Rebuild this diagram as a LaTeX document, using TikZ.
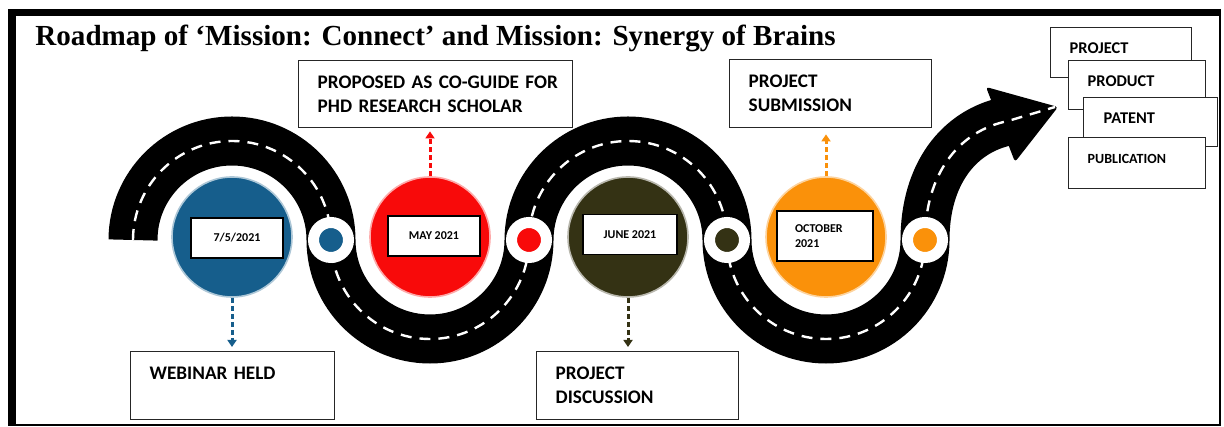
\documentclass[tikz,border=0pt]{standalone}
\usepackage{fontspec}
\setmainfont{Carlito}
\newfontfamily\titlefont{Liberation Serif}
\usepackage{tikz}
\usetikzlibrary{arrows.meta}

\definecolor{cblue}{RGB}{22,94,140}
\definecolor{cred}{RGB}{248,10,10}
\definecolor{colive}{RGB}{52,50,20}
\definecolor{corange}{RGB}{250,145,10}

\begin{document}
\begin{tikzpicture}[x=0.5pt, y=0.5pt, node distance={99pt},
    big/.style = {circle, minimum size=60pt, inner sep=0pt, line width=0.8pt},
    junc/.style = {circle, draw=white, line width=5.5pt, minimum size=17.5pt, inner sep=0pt},
    date/.style = {draw, fill=white, line width=0.9pt, minimum width=46pt, minimum height=20pt, inner sep=1pt, font=\bfseries\fontsize{6}{7.5}\selectfont},
    note/.style = {draw=black!85, fill=white, line width=0.7pt, anchor=north west, align=left, inner xsep=9.5pt, inner ysep=0pt, minimum height=34pt, font=\bfseries\fontsize{9.6}{12}\selectfont},
    pile/.style = {draw=black!85, fill=white, line width=0.7pt, anchor=north west, align=left, inner xsep=9.5pt, inner ysep=0pt, text depth=4.5pt, font=\bfseries\fontsize{8.2}{9}\selectfont},
    lead/.style = {line width=1.5pt, dash pattern=on 2.5pt off 1.5pt, -{Triangle[width=4.5pt, length=3.5pt]}},
    lane/.style = {white, line width=1.2pt, dash pattern=on 5.5pt off 4pt}]
    \useasboundingbox (0,0) rectangle (1224,427);

    \draw[line width=24.5pt] (133,187) arc[start angle=180, end angle=0, radius=99]
        arc[start angle=180, end angle=360, radius=99]
        arc[start angle=180, end angle=0, radius=99]
        arc[start angle=180, end angle=360, radius=99]
        .. controls (925,252) and (958,296) .. (1008,306);
    \fill[rounded corners=1.5pt] (986,340) -- (1058,320) -- (1015,265) -- cycle;
    \draw[lane] (133,187) arc[start angle=180, end angle=0, radius=99]
        arc[start angle=180, end angle=360, radius=99]
        arc[start angle=180, end angle=0, radius=99]
        arc[start angle=180, end angle=360, radius=99]
        .. controls (925,252) and (958,296) .. (1008,306) -- (1055,320);

    \node[big, fill=cblue, draw=cblue!35] (c_1) at (232,190) {};
    \node[big, fill=cred, draw=cred!35] (c_2) [right of=c_1] {};
    \node[big, fill=colive, draw=colive!35] (c_3) [right of=c_2] {};
    \node[big, fill=corange, draw=corange!40] (c_4) [right of=c_3] {};

    \node[junc, fill=cblue] (j_1) at (331,187) {};
    \node[junc, fill=cred] (j_2) [right of=j_1] {};
    \node[junc, fill=colive] (j_3) [right of=j_2] {};
    \node[junc, fill=corange] (j_4) [right of=j_3] {};

    \node[date] (d_1) at ([xshift=2.5pt, yshift=-0.5pt]c_1) {7/5/2021};
    \node[date] (d_2) at ([xshift=2pt, yshift=0.5pt]c_2) {MAY 2021};
    \node[date, minimum width=47pt] (d_3) at ([xshift=1pt, yshift=1.2pt]c_3) {JUNE 2021};
    \node[date, align=left, text width=30pt, inner xsep=9pt, minimum height=25pt] (d_4) at ([xshift=-0.5pt, yshift=0.5pt]c_4) {OCTOBER\\2021};

    \node[note, text width=83pt] (b_1) at (130,76) {WEBINAR HELD\\ \mbox{}};
    \node[note, text width=118pt, minimum height=33.5pt] (b_2) at (298,367) {\mbox{PROPOSED AS CO-GUIDE FOR}\\\mbox{PHD RESEARCH SCHOLAR}};
    \node[note, text width=82pt] (b_3) at (536,76) {PROJECT\\DISCUSSION};
    \node[note, text width=82pt] (b_4) at (729,368) {PROJECT\\SUBMISSION};

    \draw[lead, cblue, shorten >=2pt] (c_1.south) -- (c_1.south |- b_1.north);
    \draw[lead, cred, shorten >=1.5pt] (c_2.north) -- (c_2.north |- b_2.south);
    \draw[lead, colive, shorten >=2pt] (c_3.south) -- (c_3.south |- b_3.north);
    \draw[lead, corange, shorten >=3pt] (c_4.north) -- (c_4.north |- b_4.south);

    \node[pile, text width=51.5pt, minimum height=25pt] (s_1) at (1050,400) {PROJECT};
    \node[pile, text width=49.5pt, minimum height=24.5pt] (s_2) at (1068,367) {PRODUCT};
    \node[pile, text width=48pt, minimum height=24.5pt] (s_3) at (1083,330) {\hspace*{0.5pt}PATENT};
    \node[pile, text width=49.5pt, minimum height=25.5pt, font=\bfseries\fontsize{7}{8}\selectfont] (s_4) at (1068,290) {PUBLICATION};

    \node[anchor=base west, inner sep=0pt, font=\titlefont\bfseries\fontsize{14.55}{16}\selectfont] (title) at (35,381) {Roadmap of ‘Mission: Connect’ and Mission: Synergy of Brains};

    \fill (8,418) rectangle (1221,411);
    \fill (8,418) rectangle (16,1);
    \draw[line width=1pt] (1220,418) -- (1220,1.5) -- (8,1.5);
\end{tikzpicture}
\end{document}
